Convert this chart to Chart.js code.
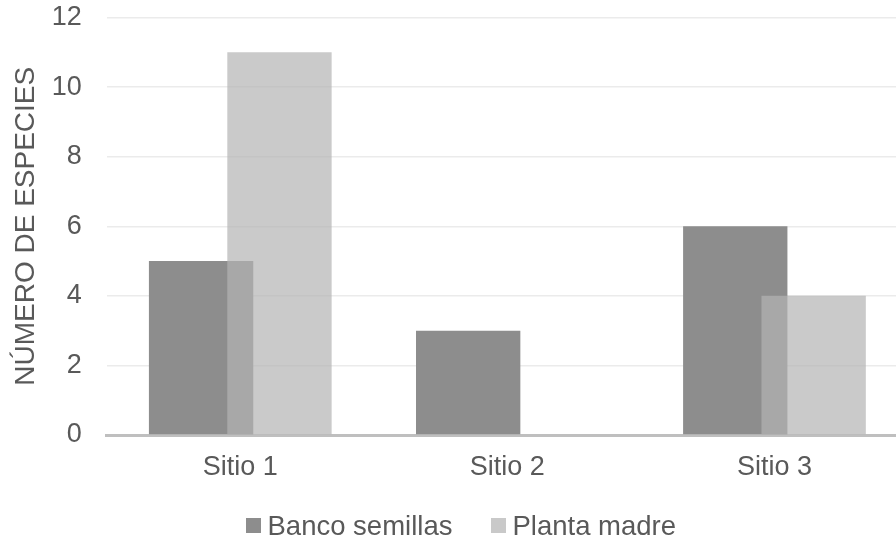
<!DOCTYPE html>
<html lang="es">
<head>
<meta charset="utf-8">
<title>Número de especies por sitio</title>
<script src="https://cdn.jsdelivr.net/npm/chart.js@4.4.1/dist/chart.umd.min.js"></script>
<style>
    html, body {
        margin: 0;
        padding: 0;
        width: 896px;
        height: 542px;
        overflow: hidden;
        background: #ffffff;
    }
    #wrap {
        position: relative;
        width: 896px;
        height: 542px;
    }
    #chart {
        position: absolute;
        left: 0;
        top: 0;
    }
    .legend-item {
        position: absolute;
        top: 512px;
        display: flex;
        align-items: center;
        font-family: "Liberation Sans", Arial, sans-serif;
        font-size: 27.5px;
        line-height: 27px;
        color: #595959;
        white-space: nowrap;
    }
    .legend-box {
        width: 15px;
        height: 15px;
        margin-right: 6.5px;
    }
</style>
</head>
<body>
<div id="wrap">
    <!-- plot runs past the right edge, like the cropped original -->
    <canvas id="chart" width="908" height="542"></canvas>
    <div class="legend-item" style="left:246px"><span class="legend-box" style="background:#8d8d8d"></span>Banco semillas</div>
    <div class="legend-item" style="left:491px"><span class="legend-box" style="background:#c9c9c9"></span>Planta madre</div>
</div>
<script>
    const categories = ['Sitio 1', 'Sitio 2', 'Sitio 3'];
    const bancoSemillas = [5, 3, 6];
    const plantaMadre = [11, 0, 4];
    const yTicks = [0, 2, 4, 6, 8, 10, 12];

    const textColor = '#595959';

    Chart.defaults.font.family = '"Liberation Sans", Arial, sans-serif';
    Chart.defaults.font.size = 27;
    Chart.defaults.color = textColor;

    // Chart.js paints the first dataset last; the lighter, translucent
    // series has to sit on top, so paint them in index order ourselves.
    const paintInOrder = {
        id: 'paintInOrder',
        beforeDatasetsDraw(chart) {
            const ctx = chart.ctx;
            const area = chart.chartArea;
            ctx.save();
            ctx.beginPath();
            ctx.rect(area.left, area.top, area.right - area.left, area.bottom - area.top);
            ctx.clip();
            chart.getSortedVisibleDatasetMetas().forEach(meta => meta.controller.draw());
            ctx.restore();
            return false;
        }
    };

    new Chart(document.getElementById('chart'), {
        type: 'bar',
        data: {
            labels: categories,
            datasets: [
                {
                    label: 'Banco semillas',
                    data: bancoSemillas,
                    backgroundColor: '#8d8d8d',
                    borderWidth: 0
                },
                {
                    label: 'Planta madre',
                    data: plantaMadre,
                    backgroundColor: 'rgba(179, 179, 179, 0.7)',
                    borderWidth: 0
                }
            ]
        },
        options: {
            responsive: false,
            animation: false,
            categoryPercentage: 0.587,
            barPercentage: 1.331,
            layout: {
                padding: { left: 6, top: 0, right: 0, bottom: 41.4 }
            },
            plugins: {
                legend: { display: false },
                tooltip: { enabled: false }
            },
            scales: {
                x: {
                    grid: { display: false, drawTicks: false },
                    border: { display: true, color: '#bfbfbf', width: 3 },
                    ticks: { padding: 16.6, color: textColor }
                },
                y: {
                    min: 0,
                    max: 12,
                    afterBuildTicks: (axis) => {
                        axis.ticks = yTicks.map(v => ({ value: v }));
                    },
                    grid: {
                        color: '#ebebeb',
                        lineWidth: 1.5,
                        drawTicks: true,
                        tickLength: 23.7,
                        tickColor: 'rgba(0, 0, 0, 0)'
                    },
                    border: { display: false },
                    ticks: { padding: 1.3, color: textColor },
                    title: {
                        display: true,
                        text: 'NÚMERO DE ESPECIES',
                        color: textColor,
                        font: { size: 28 },
                        padding: { top: 3.35, bottom: 7.45 }
                    }
                }
            }
        },
        plugins: [paintInOrder]
    });
</script>
</body>
</html>
